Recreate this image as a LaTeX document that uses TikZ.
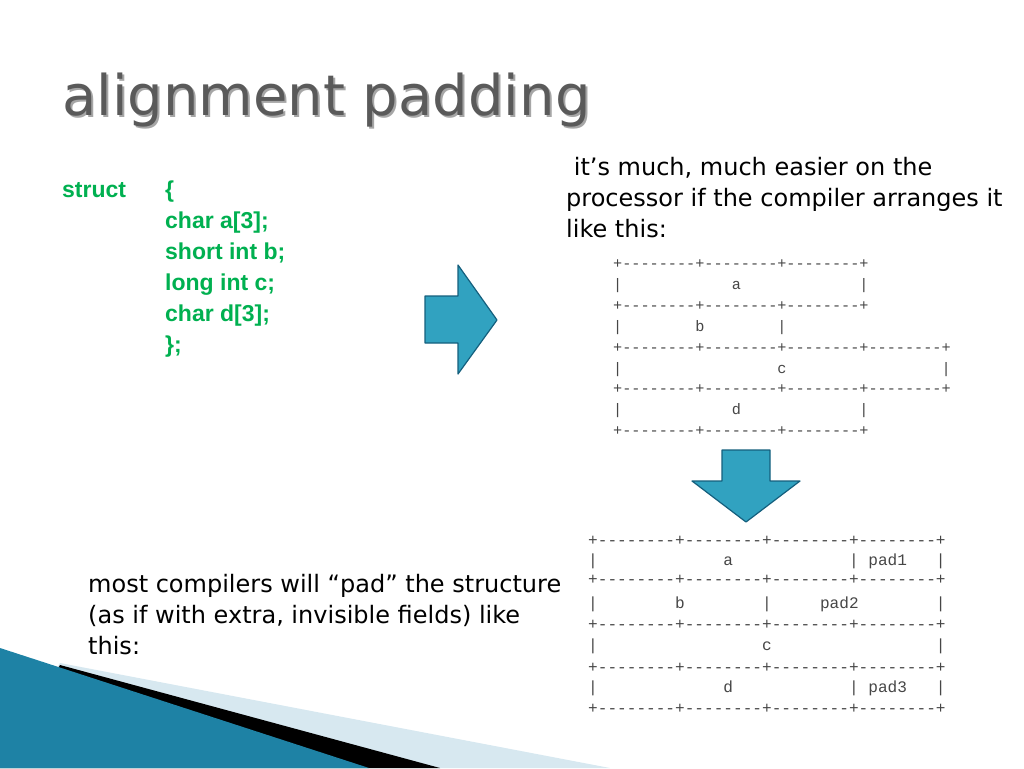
\documentclass[tikz,border=0pt]{standalone}
\usepackage{fontspec}
\setmainfont{DejaVu Sans}
\newfontfamily\codefont{Liberation Sans}
\newfontfamily\asciifont{Liberation Mono}
\definecolor{codegreen}{RGB}{0,176,80}
\definecolor{titlegray}{RGB}{90,90,90}
\definecolor{arrowblue}{RGB}{49,162,192}
\definecolor{arrowedge}{RGB}{20,95,125}
\definecolor{wedgeblue}{RGB}{30,130,165}
\definecolor{wedgelight}{RGB}{215,232,240}
\definecolor{asciigray}{RGB}{70,70,70}
\begin{document}
\begin{tikzpicture}[x=1pt,y=-1pt,line join=round]
\tikzstyle{body} = [font=\fontsize{24}{31}\selectfont,align=left,inner sep=0pt,anchor=north west]
\tikzstyle{code} = [font=\codefont\bfseries\fontsize{23}{31}\selectfont,text=codegreen,inner sep=0pt,anchor=base west]
\tikzstyle{asc} = [font=\asciifont\fontsize{15.2}{15.2}\selectfont,text=asciigray,inner sep=0pt,anchor=base west]
\tikzstyle{ascb} = [asc,font=\asciifont\fontsize{16.1}{16.1}\selectfont]
\tikzstyle{bigarrow} = [fill=arrowblue,draw=arrowedge,line width=1.2pt]
\useasboundingbox (0,0) rectangle (1024,768);
% corner wedges
\fill[wedgelight] (60,663) -- (610,768) -- (0,768) -- cycle;
\fill[black] (60,665) -- (440,768) -- (0,768) -- cycle;
\fill[wedgeblue] (0,648) -- (369,768) -- (0,768) -- cycle;
% title
\node[font=\fontsize{56}{56}\selectfont,text=black!35,anchor=base west,inner sep=0pt] at (64,117) {alignment padding};
\node[font=\fontsize{56}{56}\selectfont,text=titlegray,anchor=base west,inner sep=0pt] (title) at (62,115) {alignment padding};
% struct
\node[code] (kw) at (62,197) {struct};
\foreach \txt [count=\i from 0] in {\{,char a[3];,short int b;,long int c;,char d[3];,\};}
  \node[code] (c\i) at (165,197+31*\i) {\txt};
% texts
\node[body] (top) at (566,157) {\ it's much, much easier on the\\processor if the compiler arranges it\\like this:};
\node[body] (bot) at (88,574) {most compilers will “pad” the structure\\(as if with extra, invisible fields) like\\this:};
% arrows
\draw[bigarrow] (425,296) -- (458,296) -- (458,265) -- (497,320) -- (458,374) -- (458,343) -- (425,343) -- cycle;
\draw[bigarrow] (722,450) -- (770,450) -- (770,481) -- (800,481) -- (746,522) -- (692,481) -- (722,481) -- cycle;
% packed layout
\def\pa{9.12}
\foreach \y/\s in {268/{+--------+--------+--------+},310/{+--------+--------+--------+},352/{+--------+--------+--------+--------+},393/{+--------+--------+--------+--------+},435/{+--------+--------+--------+}}
  \node[asc] at (613,\y) {\s};
\foreach \y/\col/\s in {289/0/|,289/13/a,289/27/|,331/0/|,331/9/b,331/18/|,373/0/|,373/18/c,373/36/|,414/0/|,414/13/d,414/27/|}
  \node[asc] at (613+\pa*\col,\y) {\s};
% padded layout
\def\pb{9.66}
\foreach \y in {545,584,629,672,713}
  \node[ascb] at (588,\y) {+--------+--------+--------+--------+};
\foreach \y/\col/\s in {565/0/|,565/14/a,565/27/|,565/29/pad1,565/36/|,608/0/|,608/9/b,608/18/|,608/24/pad2,608/36/|,650/0/|,650/18/c,650/36/|,692/0/|,692/14/d,692/27/|,692/29/pad3,692/36/|}
  \node[ascb] at (588+\pb*\col,\y) {\s};
\end{tikzpicture}
\end{document}
